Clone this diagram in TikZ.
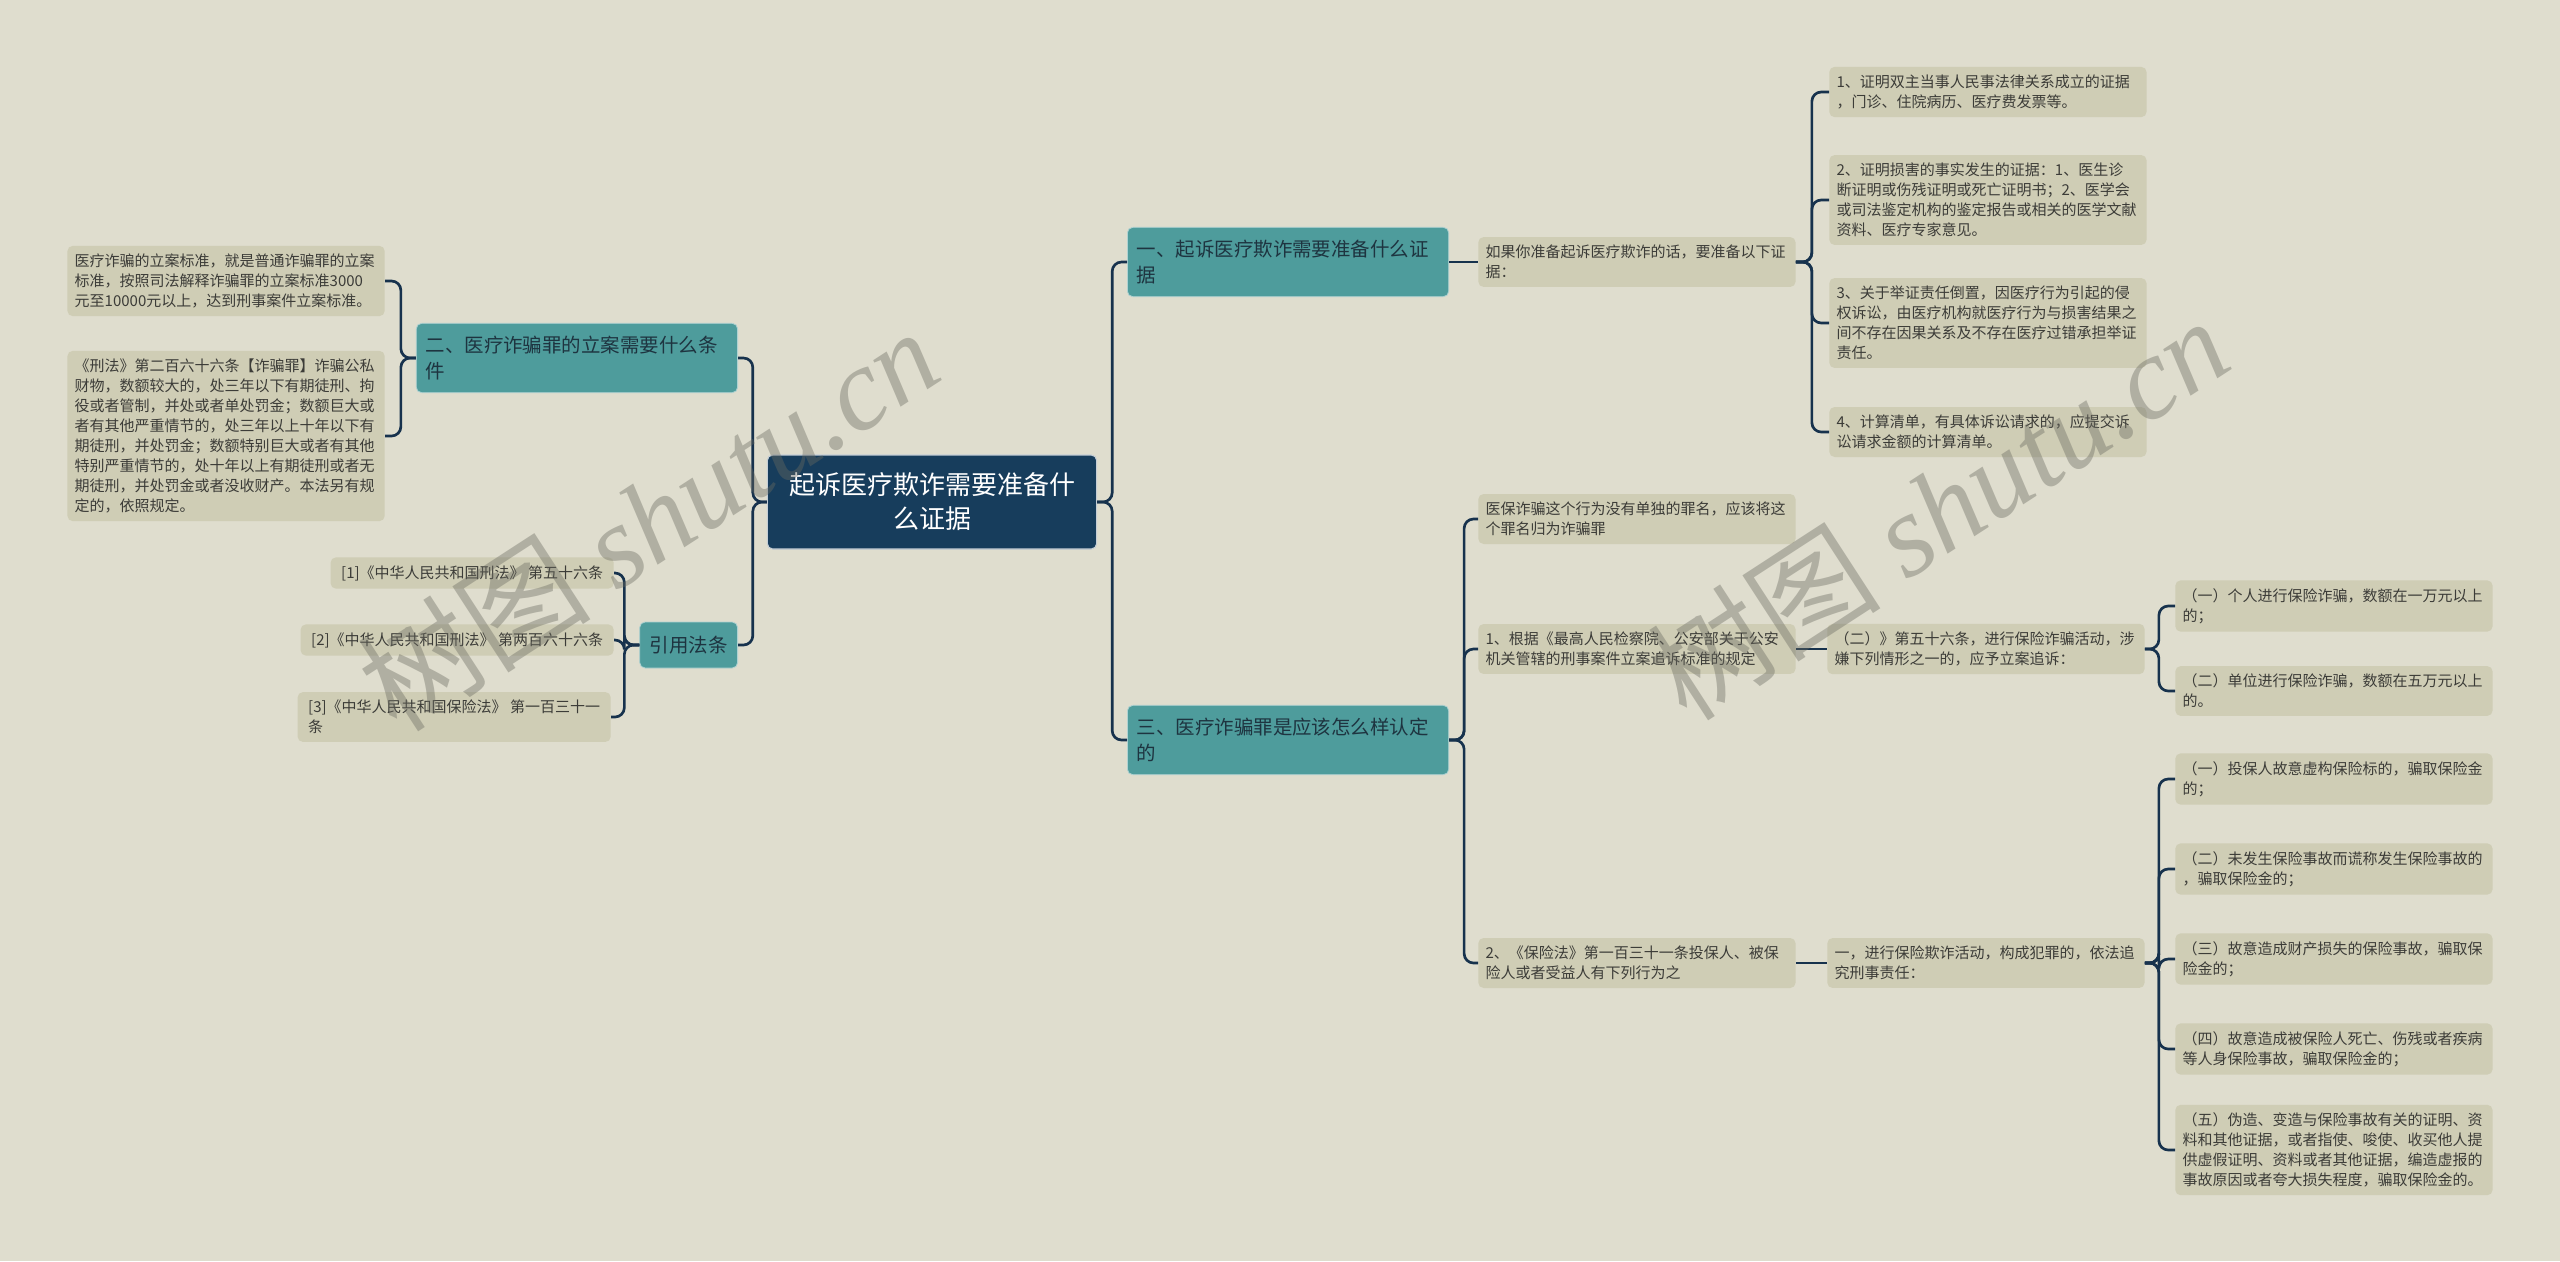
\documentclass[tikz,border=0pt]{standalone}
\usepackage{fontspec}
\setmainfont{Noto Sans CJK SC}
\newfontfamily\wmserif{Liberation Serif}
\usepackage{tikz}

\definecolor{bgc}{HTML}{DFDDCE}
\definecolor{leafc}{HTML}{CFCDB5}
\definecolor{tealc}{HTML}{4E9C9C}
\definecolor{rootc}{HTML}{173D5C}
\definecolor{linec}{HTML}{17324D}
\definecolor{txtc}{HTML}{3C3C38}
\definecolor{topictxt}{HTML}{1E3440}
\definecolor{wmc}{HTML}{6A6A60}

\tikzset{
  leaf/.style={fill=leafc, rounded corners=4pt, text=txtc, align=left,
    font=\fontsize{11.25}{15}\selectfont, inner xsep=5.5pt, inner ysep=6pt},
  wide/.style={text width=227pt},
  refleaf/.style={leaf, inner xsep=8pt, anchor=east},
  topic/.style={fill=tealc, draw=white!55!tealc, line width=0.6pt, rounded corners=4pt,
    text=topictxt, align=left, font=\fontsize{14.6}{19}\selectfont,
    inner xsep=7pt, minimum height=52pt},
  rootbox/.style={fill=rootc, draw=white!75!rootc, line width=0.8pt, rounded corners=4pt,
    text=white, align=center, font=\fontsize{19.5}{25.5}\selectfont,
    text width=233pt, inner xsep=7pt, minimum height=70.5pt},
  link/.style={draw=linec, line width=2pt, rounded corners=7pt},
  wm/.style={text=wmc, opacity=0.4, font=\fontsize{88}{88}\selectfont, rotate=33}
}

\begin{document}
\begin{tikzpicture}[x=0.75pt, y=-0.75pt]
  \useasboundingbox (0,0) rectangle (2560,1261);
  \fill[bgc] (0,0) rectangle (2560,1261);

  % Centre topic
  \node[rootbox] (root) at (932,502) {起诉医疗欺诈需要准备什\\么证据};

  % Left: filing standard
  \node[topic, wide, anchor=east] (q2) at (738,358) {二、医疗诈骗罪的立案需要什么条\\件};
  \node[leaf, wide, anchor=east] (std) at (385,281) {医疗诈骗的立案标准，就是普通诈骗罪的立案\\标准，按照司法解释诈骗罪的立案标准3000\\元至10000元以上，达到刑事案件立案标准。};
  \node[leaf, wide, anchor=east] (law) at (385,436) {《刑法》第二百六十六条【诈骗罪】诈骗公私\\财物，数额较大的，处三年以下有期徒刑、拘\\役或者管制，并处或者单处罚金；数额巨大或\\者有其他严重情节的，处三年以上十年以下有\\期徒刑，并处罚金；数额特别巨大或者有其他\\特别严重情节的，处十年以上有期徒刑或者无\\期徒刑，并处罚金或者没收财产。本法另有规\\定的，依照规定。};

  % Left: cited articles
  \node[topic, anchor=east, minimum height=34.5pt, inner xsep=7.5pt] (refs) at (738,645) {引用法条};
  \node[refleaf] (r1) at (614,573) {[1]《中华人民共和国刑法》 第五十六条};
  \node[refleaf] (r2) at (614,640) {[2]《中华人民共和国刑法》 第两百六十六条};
  \node[refleaf] (r3) at (611,717) {[3]《中华人民共和国保险法》 第一百三十一\\条};

  % Right: evidence to prepare
  \node[topic, wide, anchor=west] (q1) at (1127,262) {一、起诉医疗欺诈需要准备什么证\\据};
  \node[leaf, wide, anchor=west] (ask) at (1478,262) {如果你准备起诉医疗欺诈的话，要准备以下证\\据：};
  \node[leaf, wide, anchor=west] (g1) at (1829,92) {1、证明双主当事人民事法律关系成立的证据\\，门诊、住院病历、医疗费发票等。};
  \node[leaf, wide, anchor=west] (g2) at (1829,200) {2、证明损害的事实发生的证据：1、医生诊\\断证明或伤残证明或死亡证明书；2、医学会\\或司法鉴定机构的鉴定报告或相关的医学文献\\资料、医疗专家意见。};
  \node[leaf, wide, anchor=west] (g3) at (1829,323) {3、关于举证责任倒置，因医疗行为引起的侵\\权诉讼，由医疗机构就医疗行为与损害结果之\\间不存在因果关系及不存在医疗过错承担举证\\责任。};
  \node[leaf, wide, anchor=west] (g4) at (1829,432) {4、计算清单，有具体诉讼请求的，应提交诉\\讼请求金额的计算清单。};

  % Right: how the crime is determined
  \node[topic, wide, anchor=west] (q3) at (1127,740) {三、医疗诈骗罪是应该怎么样认定\\的};
  \node[leaf, wide, anchor=west] (c1) at (1478,519) {医保诈骗这个行为没有单独的罪名，应该将这\\个罪名归为诈骗罪};
  \node[leaf, wide, anchor=west] (c2) at (1478,649) {1、根据《最高人民检察院、公安部关于公安\\机关管辖的刑事案件立案追诉标准的规定};
  \node[leaf, wide, anchor=west] (c3) at (1478,963) {2、《保险法》第一百三十一条投保人、被保\\险人或者受益人有下列行为之};
  \node[leaf, wide, anchor=west] (d2) at (1827,649) {（二）》第五十六条，进行保险诈骗活动，涉\\嫌下列情形之一的，应予立案追诉：};
  \node[leaf, wide, anchor=west] (d3) at (1827,963) {一，进行保险欺诈活动，构成犯罪的，依法追\\究刑事责任：};
  \node[leaf, wide, anchor=west] (e1) at (2175,606) {（一）个人进行保险诈骗，数额在一万元以上\\的；};
  \node[leaf, wide, anchor=west] (e2) at (2175,691) {（二）单位进行保险诈骗，数额在五万元以上\\的。};
  \node[leaf, wide, anchor=west] (f1) at (2175,779) {（一）投保人故意虚构保险标的，骗取保险金\\的；};
  \node[leaf, wide, anchor=west] (f2) at (2175,869) {（二）未发生保险事故而谎称发生保险事故的\\，骗取保险金的；};
  \node[leaf, wide, anchor=west] (f3) at (2175,959) {（三）故意造成财产损失的保险事故，骗取保\\险金的；};
  \node[leaf, wide, anchor=west] (f4) at (2175,1049) {（四）故意造成被保险人死亡、伤残或者疾病\\等人身保险事故，骗取保险金的；};
  \node[leaf, wide, anchor=west] (f5) at (2175,1150) {（五）伪造、变造与保险事故有关的证明、资\\料和其他证据，或者指使、唆使、收买他人提\\供虚假证明、资料或者其他证据，编造虚报的\\事故原因或者夸大损失程度，骗取保险金的。};

  % Connectors
  \foreach \n in {q1,q3} \draw[link] (root.east) -- ++(15,0) |- (\n.west);
  \foreach \n in {q2,refs} \draw[link] (root.west) -- ++(-14,0) |- (\n.east);
  \foreach \n in {std,law} \draw[link] (q2.west) -- ++(-15,0) |- (\n.east);
  \foreach \n in {r1,r2,r3} \draw[link] (refs.west) -- ++(-15,0) |- (\n.east);
  \draw[link] (q1.east) -- (ask.west);
  \foreach \n in {g1,g2,g3,g4} \draw[link] (ask.east) -- ++(16,0) |- (\n.west);
  \foreach \n in {c1,c2,c3} \draw[link] (q3.east) -- ++(15,0) |- (\n.west);
  \draw[link] (c2.east) -- (d2.west);
  \draw[link] (c3.east) -- (d3.west);
  \foreach \n in {e1,e2} \draw[link] (d2.east) -- ++(14,0) |- (\n.west);
  \foreach \n in {f1,f2,f3,f4,f5} \draw[link] (d3.east) -- ++(14,0) |- (\n.west);

  % Watermarks
  \node[wm] (wm1) at (648,519) {树图 {\wmserif\itshape shutu.cn}};
  \node[wm] (wm2) at (1938,508) {树图 {\wmserif\itshape shutu.cn}};
\end{tikzpicture}
\end{document}
